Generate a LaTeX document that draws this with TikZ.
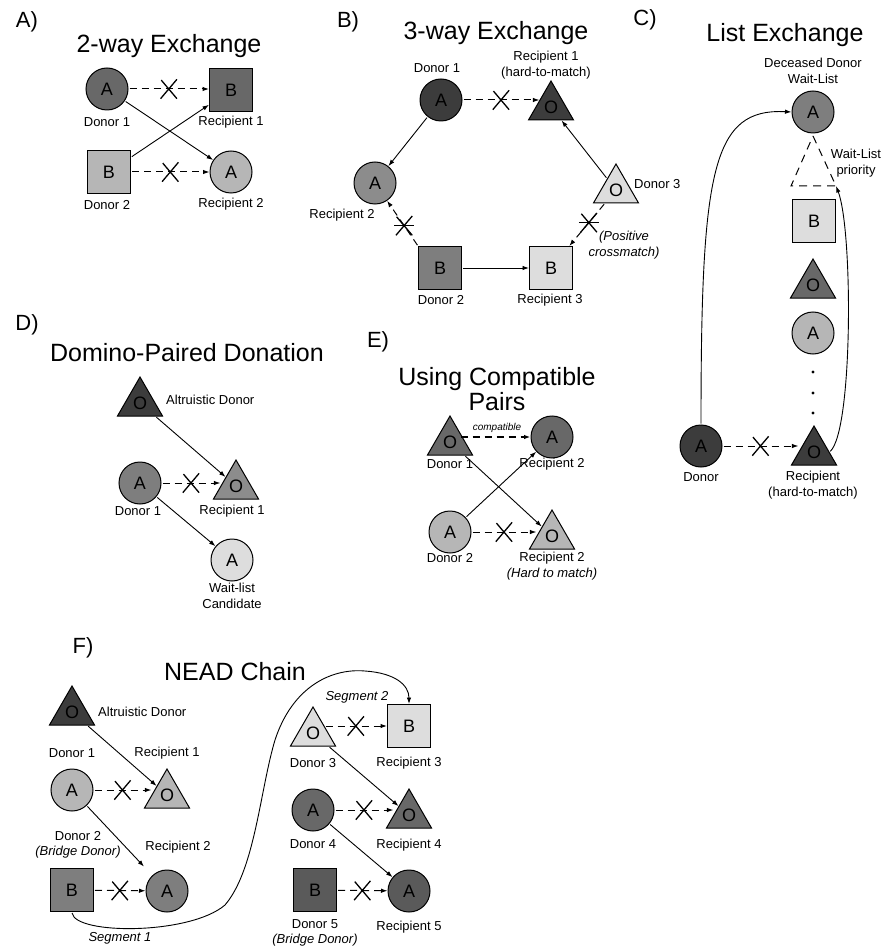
\documentclass[tikz,border=0pt]{standalone}
\usepackage{fontspec}
\setmainfont{Liberation Sans}
\usetikzlibrary{shapes.geometric,shapes.misc,arrows.meta}

\definecolor{vdark}{HTML}{3C3C3C}
\definecolor{ddark}{HTML}{5A5A5A}
\definecolor{dark}{HTML}{686868}
\definecolor{mid}{HTML}{7E7E7E}
\definecolor{bmid}{HTML}{8C8C8C}
\definecolor{light}{HTML}{B6B6B6}
\definecolor{vlight}{HTML}{DDDDDD}

\begin{document}
\begin{tikzpicture}[x=1pt,y=-1pt,
  every node/.style={inner sep=0pt},
  shp/.style={draw=black, line width=1pt, font=\fontsize{18}{18}\selectfont},
  circ/.style={shp, circle, minimum size=42pt},
  sq/.style={shp, rectangle, minimum size=43pt},
  tri/.style={shp, regular polygon, regular polygon sides=3, minimum size=52pt},
  lbl/.style={font=\fontsize{13}{15.5}\selectfont, align=center},
  ttl/.style={font=\fontsize{25}{25}\selectfont, align=center},
  pnl/.style={font=\fontsize{22}{22}\selectfont},
  arr/.style={line width=0.9pt, -{Latex[length=6.5pt,width=4.5pt]}, shorten <=1pt},
  darr/.style={arr, line width=1pt, dash pattern=on 7pt off 5pt},
  xm/.style={cross out, draw=black, solid, line width=1.3pt, minimum width=15pt, minimum height=18pt},
  bar/.style={solid, line width=1.3pt},
]
\useasboundingbox (0,0) rectangle (887,949);
\fill[white] (0,0) rectangle (887,949);

% ---------------- Panel A
\node[pnl] (lA) at (27,22) {A)};
\node[ttl] (tA) at (169,46) {2-way Exchange};
\node[circ, fill=dark] (a1) at (107,89) {A};
\node[sq, fill=dark] (a2) at (231,90) {B};
\node[sq, fill=light] (a3) at (109,172) {B};
\node[circ, fill=light] (a4) at (231,172) {A};
\node[lbl] (la1) at (107,122) {Donor 1};
\node[lbl] (la2) at (231,122) {Recipient 1};
\node[lbl] (la3) at (107,205) {Donor 2};
\node[lbl] (la4) at (231,204) {Recipient 2};
\draw[darr] (a1) -- (a2.west |- a1) node[xm,pos=.5] (xa1) {};
\draw[darr] (a3) -- (a4) node[xm,pos=.5] (xa2) {};
\draw[arr] (a1) -- (a4);
\draw[arr] (a3) -- (a2);

% ---------------- Panel B
\node[pnl] (lB) at (348,22) {B)};
\node[ttl] (tB) at (496,33) {3-way Exchange};
\node[circ, fill=vdark] (b1) at (441,100) {A};
\node[tri, fill=vdark] (b2) at (551,107) {O};
\node[circ, fill=bmid] (b3) at (375,183) {A};
\node[sq, fill=mid] (b4) at (440,268) {B};
\node[sq, fill=vlight] (b5) at (551,268) {B};
\node[tri, fill=vlight] (b6) at (616,190) {O};
\node[lbl] (lb1) at (437,68) {Donor 1};
\node[lbl] (lb2) at (546,65) {Recipient 1\\(hard-to-match)};
\node[lbl] (lb3) at (342,215) {Recipient 2};
\node[lbl] (lb4) at (441,300) {Donor 2};
\node[lbl] (lb5) at (550,300) {Recipient 3};
\node[lbl, anchor=west] (lb6) at (634,184) {Donor 3};
\node[lbl, font=\fontsize{13}{15.5}\selectfont\itshape] (lb7) at (624,245) {(Positive\\crossmatch)};
\draw[darr] (b1) -- ([xshift=4pt]b2.west |- b1) node[xm,pos=.5] (xb0) {};
\draw[arr] (b1) -- (b3);
\draw[darr] (b4.north west) -- (b3) node[xm,pos=.45] (xb1) {};
\draw[bar] ([xshift=-10pt]xb1.center) -- ([xshift=10pt]xb1.center);
\draw[arr] (b4) -- (b5);
\draw[darr] (b6) -- (b5) node[xm,pos=.45] (xb2) {};
\draw[bar] ([xshift=-10pt]xb2.center) -- ([xshift=10pt]xb2.center);
\draw[arr] (b6) -- (b2);

% ---------------- Panel C
\node[pnl] (lC) at (645,20) {C)};
\node[ttl] (tC) at (785,35) {List Exchange};
\node[lbl] (lc0) at (813,71) {Deceased Donor\\Wait-List};
\node[circ, fill=mid] (c1) at (813,112) {A};
\coordinate (wlT) at (813,136);
\coordinate (wlR) at (836,186);
\coordinate (wlL) at (791,186);
\draw[line width=1pt, dash pattern=on 8pt off 6pt] (wlT) -- (wlR) -- (wlL) -- cycle;
\node[lbl] (lc1) at (856,163) {Wait-List\\priority};
\node[sq, fill=vlight] (c2) at (814,221) {B};
\node[tri, fill=dark] (c3) at (813,285) {O};
\node[circ, fill=light] (c4) at (813,333) {A};
\fill (813,372) circle (1.6pt);
\fill (813,393) circle (1.6pt);
\fill (813,413) circle (1.6pt);
\node[circ, fill=vdark] (c5) at (701,446) {A};
\node[tri, fill=vdark] (c6) at (814,452) {O};
\node[lbl] (lc5) at (701,477) {Donor};
\node[lbl] (lc6) at (813,485) {Recipient\\(hard-to-match)};
\draw[darr] (c5) -- (c6.west |- c5) node[xm,pos=.5] (xc) {};
\draw[arr] (c5.north) .. controls (701,170) and (712,108) .. (c1.west);
\draw[arr] (c6.east) .. controls (853,430) and (853,230) .. (wlR);

% ---------------- Panel D
\node[pnl] (lD) at (27,325) {D)};
\node[ttl] (tD) at (187,353) {Domino-Paired Donation};
\node[tri, fill=vdark] (d1) at (140,403) {O};
\node[lbl, anchor=west] (ld1) at (166,400) {Altruistic Donor};
\node[circ, fill=mid] (d2) at (140,483) {A};
\node[tri, fill=bmid] (d3) at (236,486) {O};
\node[circ, fill=vlight] (d4) at (232,560) {A};
\node[lbl] (ld2) at (138,511) {Donor 1};
\node[lbl] (ld3) at (232,511) {Recipient 1};
\node[lbl] (ld4) at (232,596) {Wait-list\\Candidate};
\draw[arr] (d1) -- (d3);
\draw[darr] (d2) -- (d3.west |- d2) node[xm,pos=.5] (xd) {};
\draw[arr] (d2) -- (d4);

% ---------------- Panel E
\node[pnl] (lE) at (378,342) {E)};
\node[ttl] (tE) at (497,389) {Using Compatible\\Pairs};
\node[tri, fill=dark] (e1) at (450,442) {O};
\node[circ, fill=dark] (e2) at (552,437) {A};
\node[circ, fill=light] (e3) at (450,532) {A};
\node[tri, fill=light] (e4) at (552,536) {O};
\node[lbl] (le1) at (450,464) {Donor 1};
\node[lbl] (le2) at (552,464) {Recipient 2};
\node[lbl] (le3) at (450,558) {Donor 2};
\node[lbl] (le4) at (552,566) {Recipient 2\\\textit{(Hard to match)}};
\node[font=\fontsize{10}{10}\selectfont\itshape] (lcomp) at (497,428) {compatible};
\draw[arr, line width=1.7pt, dash pattern=on 7pt off 5pt] ([xshift=-6pt]e1.east |- e2) -- (e2);
\draw[arr] (e1) -- (e4);
\draw[arr] (e3) -- (e2);
\draw[darr] (e3) -- (e4.west |- e3) node[xm,pos=.5] (xe) {};

% ---------------- Panel F
\node[pnl] (lF) at (83,648) {F)};
\node[ttl] (tF) at (235,672) {NEAD Chain};
\node[tri, fill=vdark] (f1) at (72,712) {O};
\node[lbl, anchor=west] (lf1) at (98,712) {Altruistic Donor};
\node[lbl] (lf2) at (72,753) {Donor 1};
\node[lbl] (lf3) at (167,753) {Recipient 1};
\node[circ, fill=light] (f2) at (72,790) {A};
\node[tri, fill=light] (f3) at (167,795) {O};
\node[lbl] (lf4) at (78,845) {Donor 2\\\textit{(Bridge Donor)}};
\node[lbl] (lf5) at (178,847) {Recipient 2};
\node[sq, fill=mid] (f4) at (72,890) {B};
\node[circ, fill=mid] (f5) at (167,891) {A};
\node[lbl] (lf6) at (120,938) {\textit{Segment 1}};
\node[lbl] (lf7) at (357,697) {\textit{Segment 2}};
\node[tri, fill=vlight] (f6) at (313,733) {O};
\node[sq, fill=vlight] (f7) at (409,726) {B};
\node[lbl] (lf8) at (313,763) {Donor 3};
\node[lbl] (lf9) at (409,763) {Recipient 3};
\node[circ, fill=dark] (f8) at (313,810) {A};
\node[tri, fill=dark] (f9) at (409,815) {O};
\node[lbl] (lf10) at (313,844) {Donor 4};
\node[lbl] (lf11) at (409,845) {Recipient 4};
\node[sq, fill=ddark] (f10) at (315,890) {B};
\node[circ, fill=ddark] (f11) at (409,891) {A};
\node[lbl] (lf12) at (315,933) {Donor 5\\\textit{(Bridge Donor)}};
\node[lbl] (lf13) at (409,927) {Recipient 5};
\draw[arr] (f1) -- (f3);
\draw[darr] (f2) -- (f3.west |- f2) node[xm,pos=.5] (xf1) {};
\draw[arr, shorten >=12pt] (f2) -- (f5);
\draw[darr] (f4) -- (f5) node[xm,pos=.5] (xf2) {};
\draw[arr] (f4.south) .. controls (75,935) and (190,935) .. (225,905)
  .. controls (255,870) and (260,790) .. (275,740)
  .. controls (292,688) and (330,668) .. (365,671)
  .. controls (395,673) and (409,685) .. (f7.north);
\draw[darr] ([xshift=-4pt]f6.east |- f7) -- (f7) node[xm,pos=.5] (xf3) {};
\draw[arr] (f6) -- (f9);
\draw[darr] (f8) -- (f9.west |- f8) node[xm,pos=.5] (xf4) {};
\draw[arr] (f8) -- (f11);
\draw[darr] (f10) -- (f11) node[xm,pos=.5] (xf5) {};
\end{tikzpicture}
\end{document}
